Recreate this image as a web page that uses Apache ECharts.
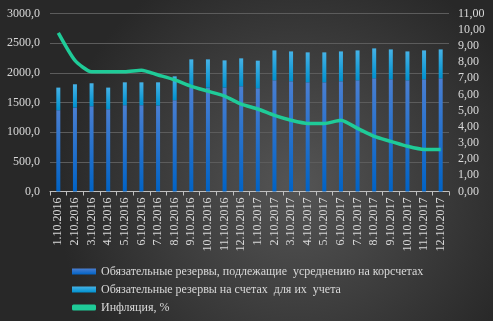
<!DOCTYPE html>
<html>
<head>
<meta charset="utf-8">
<script src="https://cdn.jsdelivr.net/npm/echarts@6/dist/echarts.min.js"></script>
<style>
  html, body { margin: 0; padding: 0; }
  #chart { width: 493px; height: 321px; }
</style>
</head>
<body>
<div id="chart"></div>
<script>
// категории (подписи как в исходнике)
var categories = ['1.10.2016','2.10.2016','3.10.2016','4.10.2016','5.10.2016','6.10.2016',
  '7.10.2016','8.10.2016','9.10.2016','10.10.2016','11.10.2016','12.10.2016',
  '1.10.2017','2.10.2017','3.10.2017','4.10.2017','5.10.2017','6.10.2017',
  '7.10.2017','8.10.2017','9.10.2017','10.10.2017','11.10.2017','12.10.2017'];
// резервы на корсчетах (нижняя часть столбца)
var reservesAvg = [1370,1415,1437,1387,1454,1454,1449,1538,1745,1751,1751,1773,
  1740,1874,1857,1840,1840,1857,1874,1908,1891,1874,1891,1908];
// резервы на счетах для их учета (верхняя часть)
var reservesAcc = [381,392,387,364,386,386,391,403,482,476,459,471,
  465,504,504,505,505,504,504,504,504,487,487,487];
// инфляция, %
var inflation = [9.8,8.1,7.4,7.4,7.4,7.5,7.2,6.9,6.5,6.2,5.9,5.4,
  5.1,4.7,4.4,4.2,4.2,4.4,3.9,3.4,3.1,2.8,2.6,2.6];

var names = ['Обязательные резервы, подлежащие  усреднению на корсчетах',
  'Обязательные резервы на счетах  для их  учета',
  'Инфляция, %'];

var font = '"Liberation Serif", "DejaVu Serif", serif';
var txt = '#d9d9d9';

function vgrad(top, bottom) {
  return { type: 'linear', x: 0, y: 0, x2: 0, y2: 1,
    colorStops: [{ offset: 0, color: top }, { offset: 1, color: bottom }] };
}

var myChart = echarts.init(document.getElementById('chart'));
myChart.setOption({
  backgroundColor: { type: 'radial', x: 0.6, y: 0.58, r: 0.75,
    colorStops: [{ offset: 0, color: '#555555' }, { offset: 1, color: '#282828' }] },
  animation: false,
  grid: { left: 50, right: 44, top: 13.5, bottom: 129.5 },
  legend: {
    orient: 'vertical', left: 72, top: 265, height: 80, itemGap: 5,
    itemWidth: 24, itemHeight: 6, padding: 0,
    textStyle: { color: txt, fontFamily: font, fontSize: 12, lineHeight: 13 },
    data: [
      { name: names[0], icon: 'rect' },
      { name: names[1], icon: 'rect' },
      { name: names[2], icon: 'roundRect', itemStyle: { color: '#1fcb98' } }
    ]
  },
  xAxis: {
    type: 'category', data: categories, boundaryGap: true,
    axisLine: { lineStyle: { color: '#bfbfbf', width: 1 } },
    axisTick: { show: true, length: 4, alignWithLabel: false, lineStyle: { color: '#bfbfbf' } },
    axisLabel: { rotate: 90, interval: 0, color: txt, fontFamily: font, fontSize: 12, margin: 6 }
  },
  yAxis: [
    {
      type: 'value', min: 0, max: 3000, interval: 500,
      axisLine: { show: false }, axisTick: { show: false },
      splitLine: { lineStyle: { color: '#5c5c5c', width: 1 } },
      axisLabel: { color: txt, fontFamily: font, fontSize: 12, margin: 10,
        formatter: function (v) { return v.toFixed(1).replace('.', ','); } }
    },
    {
      type: 'value', min: 0, max: 11, interval: 1,
      axisLine: { show: false }, axisTick: { show: false },
      splitLine: { show: false },
      axisLabel: { color: txt, fontFamily: font, fontSize: 12, margin: 9,
        formatter: function (v) { return v.toFixed(2).replace('.', ','); } }
    }
  ],
  series: [
    {
      name: names[0], type: 'bar', stack: 'res', barWidth: 4,
      data: reservesAvg,
      itemStyle: { color: vgrad('#4a7fd2', '#0063c6') }
    },
    {
      name: names[1], type: 'bar', stack: 'res', barWidth: 4,
      data: reservesAcc,
      itemStyle: { color: vgrad('#45b2e6', '#0091cf') }
    },
    {
      name: names[2], type: 'line', yAxisIndex: 1, data: inflation,
      smooth: 0.2, symbol: 'none', z: 5,
      lineStyle: { color: '#1fcb98', width: 3.5 },
      itemStyle: { color: '#1fcb98' }
    }
  ]
});
</script>
</body>
</html>
